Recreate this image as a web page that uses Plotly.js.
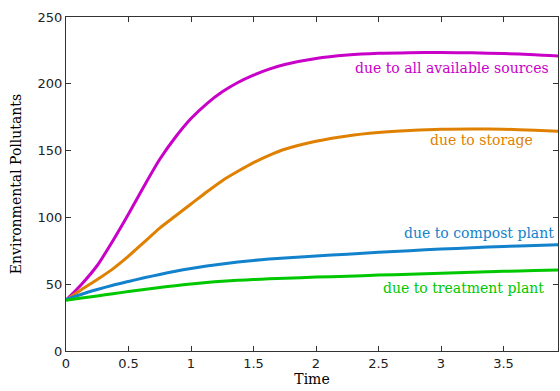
<!DOCTYPE html>
<html>
<head>
<meta charset="utf-8">
<script src="https://cdn.plot.ly/plotly-3.0.1.min.js"></script>
<style>html,body{margin:0;padding:0;background:#fff;}#chart{width:560px;height:391px;}</style>
</head>
<body>
<div id="chart"></div>
<script>
// Time values
const time = [0, 0.125, 0.25, 0.375, 0.5, 0.625, 0.75, 0.875, 1.0, 1.125, 1.25, 1.375, 1.5, 1.625, 1.75, 2.0, 2.25, 2.5, 2.75, 3.0, 3.25, 3.5, 3.75, 3.94];
// Series values
const allSources = [38, 50, 64, 82.5, 102.5, 123.5, 143.5, 160, 174, 185, 194, 201, 206.5, 211, 214.5, 219, 221.5, 222.8, 223.3, 223.4, 223.2, 222.6, 221.8, 220.8];
const storage = [38, 46, 53.5, 61.5, 71, 81.5, 92, 101, 110, 119, 127.5, 134.5, 141, 146.5, 151, 157, 161, 163.5, 165, 166, 166.2, 166, 165.2, 164.5];
const compost = [38.5, 42.5, 46, 49.2, 52, 54.8, 57.3, 59.7, 61.8, 63.6, 65.2, 66.6, 67.8, 68.8, 69.6, 71.1, 72.5, 73.9, 75.1, 76.3, 77.3, 78.2, 79, 79.6];
const treatment = [38, 39.6, 41.2, 42.9, 44.5, 46, 47.5, 48.9, 50.2, 51.3, 52.2, 52.9, 53.5, 54, 54.5, 55.3, 56, 56.8, 57.5, 58.2, 58.9, 59.6, 60.2, 60.6];

const seriesNames = ["due to all available sources", "due to storage", "due to compost plant", "due to treatment plant"];
const seriesColors = ["#c800c8", "#e08000", "#1282cc", "#00c800"];
const seriesData = [allSources, storage, compost, treatment];
// label anchor (right edge) in data coordinates
const labelX = [3.88, 3.752, 3.92, 3.84];
const labelY = [212, 158.2, 88.5, 47.2];

const serif = "DejaVu Serif, Times New Roman, serif";

const traces = seriesData.map((ys, i) => ({
  x: time, y: ys, type: "scatter", mode: "lines",
  line: {color: seriesColors[i], width: 3, shape: "spline", smoothing: 0.6},
  name: seriesNames[i], hoverinfo: "skip"
}));

const annotations = seriesNames.map((n, i) => ({
  x: labelX[i], y: labelY[i], xref: "x", yref: "y",
  text: n, showarrow: false, xanchor: "right", yanchor: "middle",
  font: {family: serif, size: 14, color: seriesColors[i]}
}));

const axisCommon = {
  showgrid: false, zeroline: false, showline: true, linecolor: "#333", linewidth: 1,
  ticks: "inside", ticklen: 5, tickcolor: "#333", mirror: "ticks",
  tickfont: {family: "DejaVu Sans, Arial, sans-serif", size: 13, color: "#222"}
};

const layout = {
  width: 560, height: 391,
  margin: {l: 66, r: 2, t: 17, b: 40},
  paper_bgcolor: "#fff", plot_bgcolor: "#fff",
  showlegend: false,
  xaxis: Object.assign({}, axisCommon, {
    range: [0, 3.936], dtick: 0.5, tick0: 0,
    title: {text: "Time", standoff: 4, font: {family: serif, size: 14, color: "#000"}}
  }),
  yaxis: Object.assign({}, axisCommon, {
    range: [0, 250], dtick: 50, tick0: 0,
    title: {text: "Environmental Pollutants", standoff: 12, font: {family: serif, size: 14, color: "#000"}}
  }),
  annotations: annotations
};

Plotly.newPlot("chart", traces, layout, {staticPlot: true, displayModeBar: false});
</script>
</body>
</html>
